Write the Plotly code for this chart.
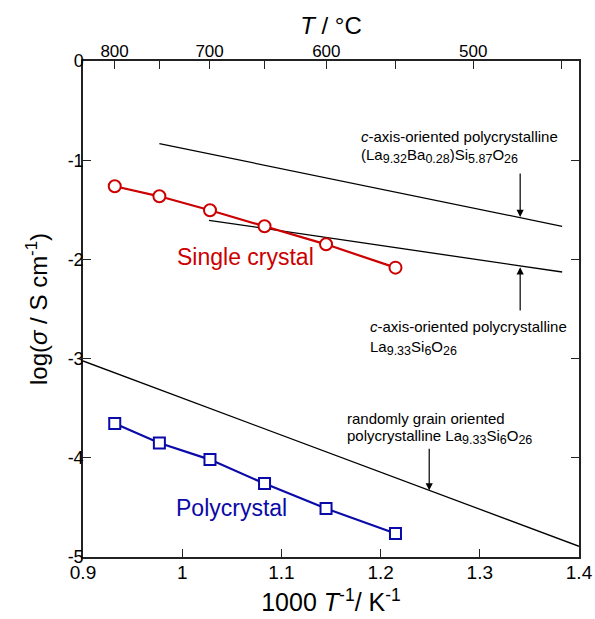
import plotly.graph_objects as go

FONT = "Liberation Sans, Arial, Helvetica, sans-serif"
AXC = "#222222"

# Data
x_pts = [0.932, 0.977, 1.028, 1.083, 1.145, 1.215]
single_crystal = [-1.263, -1.364, -1.505, -1.666, -1.848, -2.083]
polycrystal = [-3.655, -3.851, -4.018, -4.260, -4.512, -4.764]

ref_ba_x = [0.977, 1.383]
ref_ba_y = [-0.833, -1.666]
ref_c_x = [1.027, 1.383]
ref_c_y = [-1.606, -2.127]
ref_rand_x = [0.9, 1.4]
ref_rand_y = [-3.024, -4.892]

x_ticks = [0.9, 1.0, 1.1, 1.2, 1.3, 1.4]
x_ticklabels = ["0.9", "1", "1.1", "1.2", "1.3", "1.4"]
y_ticks = [0, -1, -2, -3, -4, -5]
y_ticklabels = ["0", "-1", "-2", "-3", "-4", "-5"]
top_T = [800, 750, 700, 650, 600, 550, 500, 450]
top_labels = ["800", "", "700", "", "600", "", "500", ""]
top_pos = [1000.0 / (t + 273.15) for t in top_T]

fig = go.Figure()

for xs, ys in [(ref_ba_x, ref_ba_y), (ref_c_x, ref_c_y), (ref_rand_x, ref_rand_y)]:
    fig.add_trace(go.Scatter(x=xs, y=ys, mode="lines",
                             line=dict(color="black", width=1.3),
                             showlegend=False, hoverinfo="skip"))

fig.add_trace(go.Scatter(x=x_pts, y=single_crystal, mode="lines+markers",
                         line=dict(color="#cc0000", width=2.2),
                         marker=dict(symbol="circle", size=12, color="white",
                                     line=dict(color="#cc0000", width=2)),
                         name="Single crystal", showlegend=False))
fig.add_trace(go.Scatter(x=x_pts, y=polycrystal, mode="lines+markers",
                         line=dict(color="#0a0aa8", width=2.2),
                         marker=dict(symbol="square", size=11, color="white",
                                     line=dict(color="#0a0aa8", width=2)),
                         name="Polycrystal", showlegend=False))


def sub(s):
    return "<sub><span style='font-size:12.5px'>" + s + "</span></sub>"


ann = []
def txt(x, y, s, size=15, color="black", xanchor="left"):
    ann.append(dict(x=x, y=y, xref="x", yref="y", text=s, showarrow=False,
                    xanchor=xanchor, yanchor="middle",
                    font=dict(family=FONT, size=size, color=color)))

txt(1.178, -0.763, "<i>c</i>-axis-oriented polycrystalline")
txt(1.178, -0.955, "(La" + sub("9.32") + "Ba" + sub("0.28") + ")Si" + sub("5.87") + "O" + sub("26"))
txt(1.187, -2.673, "<i>c</i>-axis-oriented polycrystalline")
txt(1.187, -2.89, "La" + sub("9.33") + "Si" + sub("6") + "O" + sub("26"))
txt(1.1646, -3.60, "randomly grain oriented")
txt(1.1646, -3.79, "polycrystalline La" + sub("9.33") + "Si" + sub("6") + "O" + sub("26"))
txt(1.0634, -1.976, "Single crystal", size=23, color="#cc0000", xanchor="center")
txt(1.050, -4.509, "Polycrystal", size=23, color="#0a0aa8", xanchor="center")

for (xa, ya, xt, yt) in [(1.3407, -1.119, 1.3407, -1.573),
                         (1.3407, -2.530, 1.3407, -2.080),
                         (1.249, -3.894, 1.249, -4.328)]:
    ann.append(dict(x=xt, y=yt, ax=xa, ay=ya, xref="x", yref="y",
                    axref="x", ayref="y", text="", showarrow=True,
                    arrowhead=2, arrowsize=1.2, arrowwidth=1.2, arrowcolor="black"))

fig.update_layout(
    width=595, height=619,
    margin=dict(l=83, r=16, t=61, b=62),
    paper_bgcolor="white", plot_bgcolor="white",
    font=dict(family=FONT, color="black"),
    annotations=ann,
    xaxis=dict(range=[0.9, 1.4], tickvals=x_ticks, ticktext=x_ticklabels,
               ticks="inside", ticklen=8, tickwidth=1.3, tickcolor=AXC,
               showline=True, linecolor=AXC, linewidth=1.5, showgrid=False,
               zeroline=False, tickfont=dict(size=19), automargin=False,
               ticklabelstandoff=-3,
               title=dict(text="1000 <i>T</i><sup>-1</sup>/ K<sup>-1</sup>",
                          font=dict(size=25), standoff=12)),
    xaxis2=dict(range=[0.9, 1.4], overlaying="x", side="top",
                tickvals=top_pos, ticktext=top_labels,
                ticks="inside", ticklen=8, tickwidth=1.3, tickcolor=AXC,
                showline=True, linecolor=AXC, linewidth=1.5, showgrid=False,
                zeroline=False, tickfont=dict(size=17), automargin=False,
                ticklabelstandoff=-5,
                title=dict(text="<i>T</i> / °C", font=dict(size=24), standoff=1)),
    yaxis=dict(range=[-5, 0], tickvals=y_ticks, ticktext=y_ticklabels,
               ticks="inside", ticklen=8, tickwidth=1.3, tickcolor=AXC,
               showline=True, linecolor=AXC, linewidth=1.5, mirror="ticks",
               showgrid=False, zeroline=False, tickfont=dict(size=18),
               automargin=False, ticklabelstandoff=-6,
               title=dict(text="log(<i>σ</i> / S cm<sup>-1</sup>)",
                          font=dict(size=24), standoff=13)),
)
# invisible trace to activate the top temperature axis
fig.add_trace(go.Scatter(x=[0.9], y=[-10], xaxis="x2", mode="markers",
                         marker=dict(opacity=0), showlegend=False, hoverinfo="skip"))

fig.write_html("out.html", config={"displayModeBar": False},
               post_script="document.body.style.margin='0';")
